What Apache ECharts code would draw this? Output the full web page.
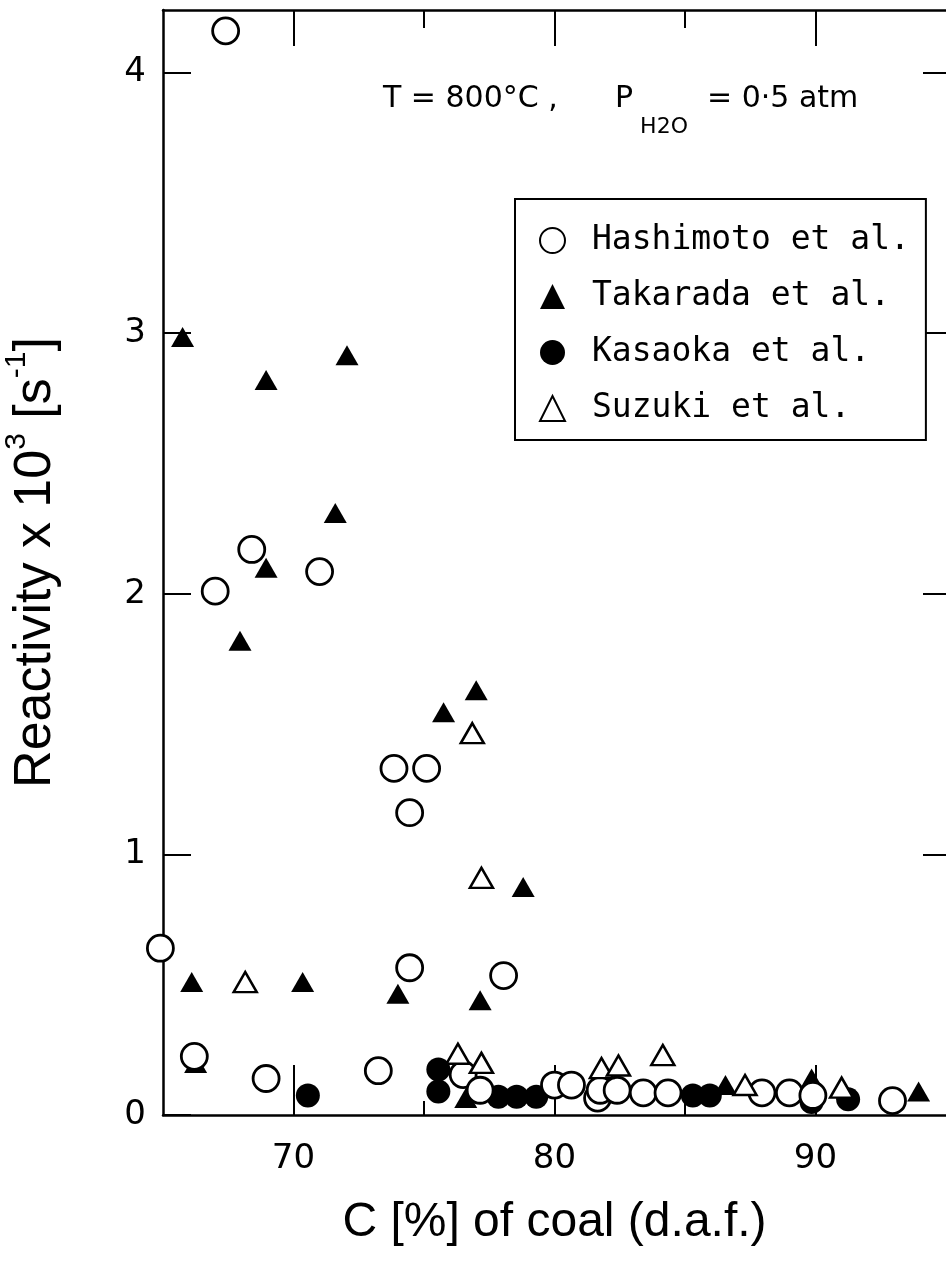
<!DOCTYPE html>
<html>
<head>
<meta charset="utf-8">
<script src="https://cdn.jsdelivr.net/npm/echarts@6.0.0/dist/echarts.min.js"></script>
<style>
  html, body { margin: 0; padding: 0; background: #fff; }
  #chart { width: 946px; height: 1280px; }
</style>
</head>
<body>
<div id="chart"></div>
<script>
// Steam gasification reactivity of coal chars vs. carbon content
// [C % (d.a.f.), reactivity x 10^3 s^-1]
const hashimotoData = [
  [67.4, 4.16], [67.0, 2.01], [68.4, 2.17], [71.0, 2.085], [73.85, 1.33],
  [75.1, 1.33], [74.45, 1.16], [74.45, 0.565], [78.05, 0.535], [64.9, 0.64],
  [66.2, 0.225], [68.95, 0.14], [73.25, 0.17], [76.5, 0.155], [77.15, 0.095],
  [80.0, 0.115], [80.65, 0.115], [81.65, 0.065], [81.75, 0.095], [82.4, 0.095],
  [83.4, 0.085], [84.35, 0.085], [87.95, 0.085], [89.0, 0.085], [89.9, 0.075],
  [92.95, 0.055]
];
const takaradaData = [
  [65.75, 2.985], [68.95, 2.82], [72.05, 2.915], [71.6, 2.31], [68.95, 2.10],
  [67.95, 1.82], [77.0, 1.63], [75.75, 1.545], [78.8, 0.875], [66.1, 0.51],
  [70.35, 0.51], [74.0, 0.465], [77.15, 0.44], [66.25, 0.2], [76.6, 0.065],
  [86.55, 0.115], [89.85, 0.14], [93.95, 0.09]
];
const kasaokaData = [
  [70.55, 0.075], [75.55, 0.175], [75.55, 0.09], [77.85, 0.07], [78.55, 0.07],
  [79.3, 0.07], [85.3, 0.075], [85.95, 0.075], [89.85, 0.05], [91.25, 0.06]
];
const suzukiData = [
  [68.15, 0.51], [76.85, 1.465], [77.2, 0.91], [76.3, 0.235], [77.2, 0.2],
  [81.8, 0.18], [82.45, 0.19], [84.15, 0.23], [87.3, 0.115], [91.0, 0.105]
];

const seriesNames = ['Hashimoto et al.', 'Takarada et al.', 'Kasaoka et al.', 'Suzuki et al.'];

// axis ranges and tick positions
const xMin = 65, xMax = 95;
const yMin = 0, yMax = 4.24;
const xMajorTicks = [70, 80, 90];
const xMinorTicks = [75, 85];
const yTicks = [0, 1, 2, 3, 4];
const yRightTicks = [1, 2, 3, 4];

const INK = '#000';
const tickFont = 'DejaVu Sans';
const titleFont = 'Liberation Sans';

function xAxisDef(position, ticks, len, showLine, showLabel) {
  return {
    type: 'value', position: position, min: xMin, max: xMax,
    axisLine: { show: showLine, onZero: false, lineStyle: { color: INK, width: 2.5 } },
    axisTick: { show: true, inside: true, length: len, customValues: ticks,
                lineStyle: { color: INK, width: 2 } },
    axisLabel: showLabel
      ? { show: true, customValues: ticks, margin: 27, color: INK,
          fontFamily: tickFont, fontSize: 34 }
      : { show: false },
    splitLine: { show: false }
  };
}

const bottomMain = xAxisDef('bottom', xMajorTicks, 50, true, true);
bottomMain.name = 'C [%] of coal (d.a.f.)';
bottomMain.nameLocation = 'middle';
bottomMain.nameGap = 84;
bottomMain.nameTextStyle = { fontFamily: titleFont, fontSize: 48, color: INK };

const option = {
  backgroundColor: '#fff',
  animation: false,
  grid: { left: 163, right: 0, top: 10, bottom: 165, containLabel: false, outerBoundsMode: 'none' },
  xAxis: [
    bottomMain,
    xAxisDef('bottom', xMinorTicks, 14, false, false),
    xAxisDef('top', xMajorTicks, 36, true, false),
    xAxisDef('top', xMinorTicks, 18, false, false)
  ],
  yAxis: [
    {
      type: 'value', position: 'left', min: yMin, max: yMax,
      axisLine: { show: true, lineStyle: { color: INK, width: 2.5 } },
      axisTick: { show: true, inside: true, length: 28, customValues: yTicks,
                  lineStyle: { color: INK, width: 2 } },
      axisLabel: { customValues: yTicks, margin: 17, color: INK,
                   fontFamily: tickFont, fontSize: 34 },
      splitLine: { show: false },
      name: '{b|Reactivity x 10}{s|3}{b| [s}{s|-1}{b|]}',
      nameLocation: 'middle',
      nameRotate: 90,
      nameGap: 101,
      nameTextStyle: {
        color: INK, fontFamily: titleFont, fontSize: 52,
        rich: {
          b: { fontFamily: titleFont, fontSize: 52, lineHeight: 60, verticalAlign: 'bottom', color: INK },
          s: { fontFamily: titleFont, fontSize: 30, lineHeight: 30, verticalAlign: 'top', color: INK }
        }
      }
    },
    {
      type: 'value', position: 'right', min: yMin, max: yMax,
      axisLine: { show: false },
      axisTick: { show: true, inside: true, length: 23, customValues: yRightTicks,
                  lineStyle: { color: INK, width: 2 } },
      axisLabel: { show: false },
      splitLine: { show: false }
    }
  ],
  legend: {
    orient: 'vertical',
    left: 515, top: 199,
    padding: [25, 16, 15, 24],
    itemWidth: 25, itemHeight: 25, itemGap: 23,
    selectedMode: false,
    borderColor: INK, borderWidth: 2,
    backgroundColor: '#fff',
    textStyle: { fontFamily: 'DejaVu Sans Mono', fontSize: 33, lineHeight: 33, color: INK,
                 padding: [0, 0, 0, 22] },
    data: seriesNames
  },
  graphic: [
    {
      type: 'text', left: 383, top: 84, z: 10,
      style: {
        text: '{a|T = 800°C ,      P}{h| H2O}{a|  = 0·5 atm}',
        rich: {
          a: { fontFamily: tickFont, fontSize: 30, lineHeight: 36, verticalAlign: 'top', fill: INK },
          h: { fontFamily: tickFont, fontSize: 22, lineHeight: 54, verticalAlign: 'bottom', fill: INK }
        }
      }
    }
  ],
  series: [
    {
      name: seriesNames[2], type: 'scatter', data: kasaokaData, clip: false, z: 2,
      symbol: 'circle', symbolSize: 24,
      itemStyle: { color: INK, borderColor: INK, borderWidth: 0, opacity: 1 }
    },
    {
      name: seriesNames[1], type: 'scatter', data: takaradaData, clip: false, z: 3,
      symbol: 'triangle', symbolSize: [23, 20],
      itemStyle: { color: INK, borderColor: INK, borderWidth: 0, opacity: 1 }
    },
    {
      name: seriesNames[0], type: 'scatter', data: hashimotoData, clip: false, z: 4,
      symbol: 'circle', symbolSize: 26,
      itemStyle: { color: '#fff', borderColor: INK, borderWidth: 2.8, opacity: 1 }
    },
    {
      name: seriesNames[3], type: 'scatter', data: suzukiData, clip: false, z: 5,
      symbol: 'triangle', symbolSize: [23, 20],
      itemStyle: { color: '#fff', borderColor: INK, borderWidth: 2.5, opacity: 1 }
    }
  ]
};

const chart = echarts.init(document.getElementById('chart'), null, { renderer: 'canvas' });
chart.setOption(option);
</script>
</body>
</html>
